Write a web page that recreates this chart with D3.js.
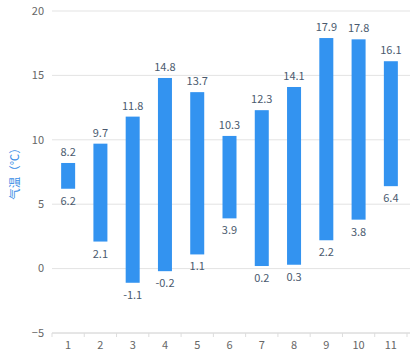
<!DOCTYPE html>
<html><head><meta charset="utf-8">
<script src="https://cdn.jsdelivr.net/npm/d3@7/dist/d3.min.js"></script>
<style>body{margin:0;background:#fff}svg{display:block}</style>
</head><body><svg id="c" width="414" height="351"></svg>
<script>
const categories = ["1","2","3","4","5","6","7","8","9","10","11"];
const minTemps = [6.2, 2.1, -1.1, -0.2, 1.1, 3.9, 0.2, 0.3, 2.2, 3.8, 6.4];
const maxTemps = [8.2, 9.7, 11.8, 14.8, 13.7, 10.3, 12.3, 14.1, 17.9, 17.8, 16.1];
const yTicks = [-5, 0, 5, 10, 15, 20];
const yTitle = "气温（℃）";

(function(){
const svg = d3.select("#c");
const font = "'Noto Sans CJK SC','Noto Sans',sans-serif";
const pL = 52, pR = 407, pT = 11, pB = 333;
const x = d3.scaleBand().domain(categories).range([pL, pR]);
const y = d3.scaleLinear().domain([-5, 20]).range([pB, pT]);

// grid
svg.append("g").selectAll("line").data(yTicks).join("line")
  .attr("x1", pL).attr("x2", 410)
  .attr("y1", d => y(d)).attr("y2", d => y(d))
  .attr("stroke", d => d === -5 ? "#ccc" : "#e3e3e3").attr("stroke-width", 1);

// y labels
svg.append("g").selectAll("text").data(yTicks).join("text")
  .attr("x", 44).attr("y", d => y(d)).attr("dy", "0.35em")
  .attr("text-anchor", "end").attr("font-family", font).attr("font-size", 11)
  .attr("fill", "#666").text(d => d < 0 ? "\u2212" + Math.abs(d) : d);

// x axis ticks
const xb = svg.append("g").attr("transform", `translate(0,${pB})`);
xb.selectAll("line").data(d3.range(categories.length + 1)).join("line")
  .attr("x1", i => pL + i * x.step()).attr("x2", i => pL + i * x.step())
  .attr("y1", 0).attr("y2", 4).attr("stroke", "#ddd");
xb.selectAll("text").data(categories).join("text")
  .attr("x", d => x(d) + x.bandwidth() / 2).attr("y", 16)
  .attr("text-anchor", "middle").attr("font-family", font).attr("font-size", 11)
  .attr("fill", "#666").text(d => d);

// y title
svg.append("text").attr("transform", "translate(15,171) rotate(-90)")
  .attr("text-anchor", "middle").attr("dy", "0.35em")
  .attr("font-family", font).attr("font-size", 11.5).attr("fill", "#3a8ee6")
  .text(yTitle);

// bars
const data = categories.map((c, i) => ({c, lo: minTemps[i], hi: maxTemps[i]}));
const bw = 14;
svg.append("g").selectAll("rect").data(data).join("rect")
  .attr("x", d => x(d.c) + x.bandwidth() / 2 - bw / 2)
  .attr("width", bw)
  .attr("y", d => y(d.hi))
  .attr("height", d => y(d.lo) - y(d.hi))
  .attr("fill", "#3393f0");

// value labels
const lab = svg.append("g").attr("font-family", font).attr("font-size", 11)
  .attr("fill", "#4a5a6e").attr("text-anchor", "middle");
lab.selectAll("text.hi").data(data).join("text").attr("class", "hi")
  .attr("x", d => x(d.c) + x.bandwidth() / 2).attr("y", d => y(d.hi) - 7)
  .text(d => d.hi);
lab.selectAll("text.lo").data(data).join("text").attr("class", "lo")
  .attr("x", d => x(d.c) + x.bandwidth() / 2).attr("y", d => y(d.lo) + 16)
  .text(d => d.lo < 0 ? "-" + Math.abs(d.lo) : d.lo);
})();
</script></body></html>
